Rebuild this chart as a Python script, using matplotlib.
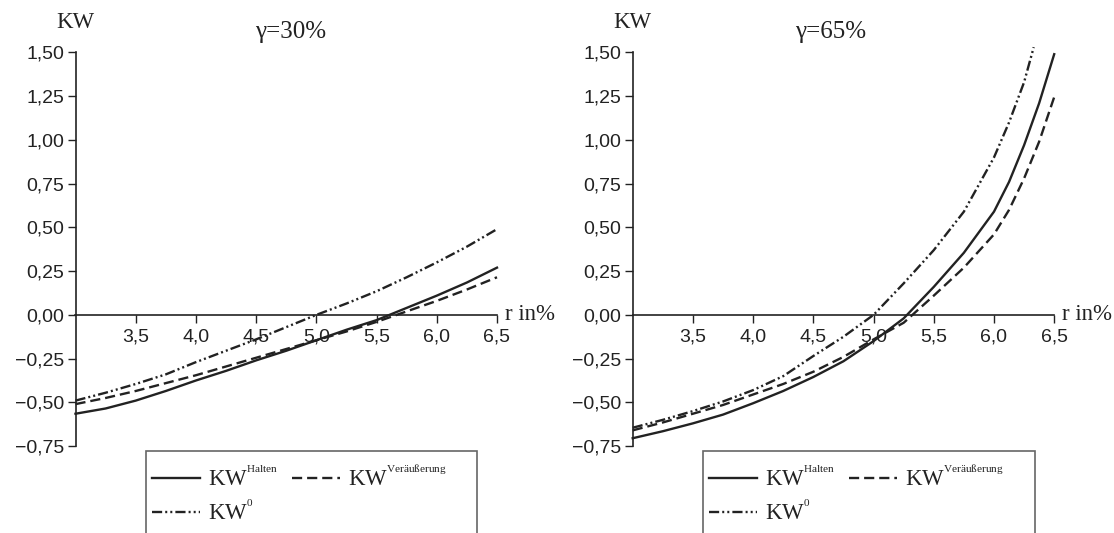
import matplotlib
matplotlib.use("Agg")
from matplotlib import pyplot as plt
from matplotlib.patches import Rectangle

plt.rcParams['font.family'] = ['Liberation Sans', 'DejaVu Sans']
plt.rcParams['mathtext.fontset'] = 'custom'
plt.rcParams['mathtext.rm'] = 'Liberation Serif'
plt.rcParams['mathtext.it'] = 'Liberation Serif:italic'

# ---- data ----
x_left = [3.0, 3.25, 3.5, 3.75, 4.0, 4.25, 4.5, 4.75, 5.0, 5.25, 5.5, 5.75, 6.0, 6.25, 6.5]
halten_30 = [-0.565, -0.535, -0.49, -0.435, -0.375, -0.32, -0.26, -0.205, -0.145,
             -0.085, -0.03, 0.04, 0.11, 0.185, 0.27]
veraeuss_30 = [-0.51, -0.475, -0.435, -0.39, -0.345, -0.295, -0.245, -0.195, -0.145,
               -0.095, -0.04, 0.02, 0.08, 0.145, 0.215]
null_30 = [-0.49, -0.445, -0.395, -0.34, -0.27, -0.205, -0.14, -0.07, 0.0,
           0.065, 0.135, 0.215, 0.30, 0.39, 0.49]

x_right = [3.0, 3.25, 3.5, 3.75, 4.0, 4.25, 4.5, 4.75, 5.0, 5.25, 5.5, 5.75, 6.0,
           6.125, 6.25, 6.375, 6.5]
halten_65 = [-0.705, -0.665, -0.62, -0.57, -0.505, -0.435, -0.355, -0.265, -0.15,
             -0.02, 0.16, 0.355, 0.59, 0.76, 0.97, 1.21, 1.49]
veraeuss_65 = [-0.66, -0.615, -0.565, -0.515, -0.455, -0.395, -0.325, -0.24, -0.14,
               -0.045, 0.11, 0.27, 0.46, 0.60, 0.78, 0.99, 1.245]
x_null_65 = [3.0, 3.25, 3.5, 3.75, 4.0, 4.25, 4.5, 4.75, 5.0, 5.25, 5.5, 5.75, 6.0,
             6.125, 6.25, 6.33]
null_65 = [-0.645, -0.6, -0.55, -0.495, -0.43, -0.35, -0.235, -0.125, 0.0, 0.18,
           0.37, 0.59, 0.9, 1.1, 1.33, 1.53]

y_ticks = [-0.75, -0.5, -0.25, 0.0, 0.25, 0.5, 0.75, 1.0, 1.25, 1.5]
y_labels = ["\u22120,75", "\u22120,50", "\u22120,25", "0,00", "0,25", "0,50",
            "0,75", "1,00", "1,25", "1,50"]
x_ticks = [3.5, 4.0, 4.5, 5.0, 5.5, 6.0, 6.5]
x_labels = ["3,5", "4,0", "4,5", "5,0", "5,5", "6,0", "6,5"]

legend_labels = ["KW$^{{}^{\\mathrm{Halten}}}$", "KW$^{{}^{0}}$",
                 "KW$^{{}^{\\mathrm{Veräußerung}}}$"]

ink = '#222222'
serif = 'Liberation Serif'
lw = 1.7
dash_style = (0, (4.3, 2.1))
dashdot_style = (0, (4.3, 1.3, 0.85, 1.3, 0.85, 1.3))

W, H = 1114, 533
fig = plt.figure(figsize=(W / 100, H / 100), dpi=100)


def make_panel(left_px, x, y_h, y_v, x0, y0, title, title_x):
    ax = fig.add_axes([left_px / W, 86.9 / H, 421.5 / W, 402.4 / H])
    ax.set_xlim(3.0, 6.5)
    ax.set_ylim(-0.75, 1.55)
    l1, = ax.plot(x, y_h, color=ink, lw=lw, ls='-', clip_on=False)
    l2, = ax.plot(x, y_v, color=ink, lw=lw, ls=dash_style, clip_on=False)
    l3, = ax.plot(x0, y0, color=ink, lw=lw, ls=dashdot_style, clip_on=False)

    for s in ['top', 'right']:
        ax.spines[s].set_visible(False)
    ax.spines['left'].set_bounds(-0.75, 1.5)
    ax.spines['bottom'].set_position(('data', 0))
    ax.spines['bottom'].set_bounds(3.0, 6.5)
    for s in ['left', 'bottom']:
        ax.spines[s].set_color(ink)
        ax.spines[s].set_linewidth(1.2)

    ax.set_yticks(y_ticks)
    ax.set_yticklabels(y_labels)
    ax.set_xticks(x_ticks)
    ax.set_xticklabels(x_labels)
    ax.tick_params(axis='y', direction='out', length=6, width=1, colors=ink,
                   labelsize=14, pad=2)
    ax.tick_params(axis='x', direction='out', length=6, width=1, colors=ink,
                   labelsize=14, pad=4)

    ax.text(title_x, 1.029, title, transform=ax.transAxes, ha='center',
            va='center', fontsize=18, family=serif, color=ink)
    ax.text(0.0, 1.052, "KW", transform=ax.transAxes, ha='center',
            va='center', fontsize=16.5, family=serif, color=ink)
    ax.text(6.565, 0.0, "r in%", ha='left', va='center', fontsize=16.5,
            family=serif, color=ink, clip_on=False)

    # legend box (runs off the bottom of the figure)
    box_left = left_px + 70
    fig.patches.append(Rectangle((box_left / W, -0.1), 332 / W, (533 - 450.7) / H + 0.1,
                                 transform=fig.transFigure, fill=False,
                                 edgecolor='#666666', lw=1.2))
    leg = ax.legend([l1, l3, l2], [legend_labels[0], legend_labels[1], legend_labels[2]],
                    ncol=2, frameon=False, loc='upper left',
                    bbox_to_anchor=((box_left + 6) / W, (533 - 466) / H),
                    bbox_transform=fig.transFigure, borderpad=0,
                    borderaxespad=0, handlelength=2.1, handletextpad=0.35,
                    columnspacing=0.6, labelspacing=0.4,
                    prop={'family': serif, 'size': 16.5})
    for t in leg.get_texts():
        t.set_color(ink)
    return ax


make_panel(75.5, x_left, halten_30, veraeuss_30, x_left, null_30, "\u03b3=30%", 0.511)
make_panel(632.7, x_right, halten_65, veraeuss_65, x_null_65, null_65, "\u03b3=65%", 0.47)

fig.savefig("out.png", dpi=100)
